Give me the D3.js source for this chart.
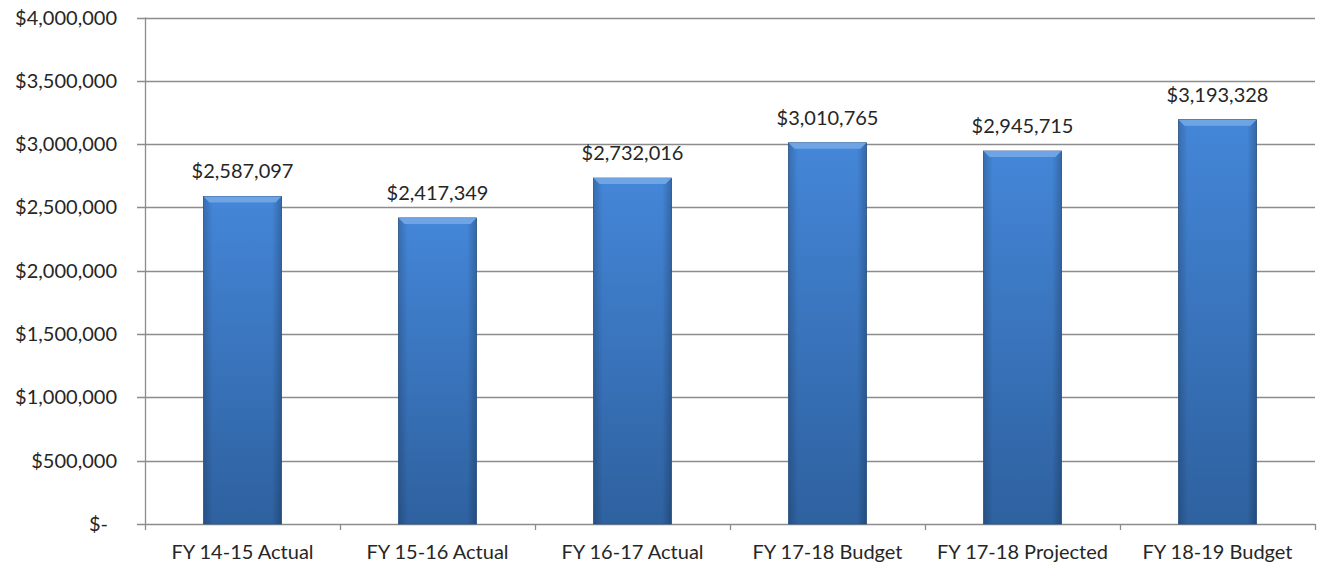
<!DOCTYPE html>
<html>
<head>
<meta charset="utf-8">
<script src="https://cdn.jsdelivr.net/npm/d3@7"></script>
<style>
  html, body { margin: 0; padding: 0; background: #ffffff; }
  svg { display: block; }
  text { font-family: Lato, "Open Sans", sans-serif; fill: #262626; }
</style>
</head>
<body>
<svg id="chart" width="1318" height="564"></svg>
<script>
// Annual totals by fiscal year
const categories = ["FY 14-15 Actual", "FY 15-16 Actual", "FY 16-17 Actual", "FY 17-18 Budget", "FY 17-18 Projected", "FY 18-19 Budget"];
const values = [2587097, 2417349, 2732016, 3010765, 2945715, 3193328];
const yTicks = [0, 500000, 1000000, 1500000, 2000000, 2500000, 3000000, 3500000, 4000000];

const svg = d3.select("#chart");
const plotLeft = 145, plotRight = 1315, plotTop = 17.5, plotBottom = 524;
const fontSize = 20;

const x = d3.scaleBand().domain(categories).range([plotLeft, plotRight]).paddingInner(0.6).paddingOuter(0.3);
const xb = d3.scaleBand().domain(categories).range([plotLeft, plotRight]);
const y = d3.scaleLinear().domain([0, 4000000]).range([plotBottom, plotTop]);

const money = d => d === 0 ? "$-" : "$" + d3.format(",")(d);

// Gradients for the bevelled bars
const defs = svg.append("defs");
const body = defs.append("linearGradient").attr("id", "barBody").attr("x1", 0).attr("y1", 0).attr("x2", 0).attr("y2", 1);
body.append("stop").attr("offset", "0%").attr("stop-color", "#4486d8");
body.append("stop").attr("offset", "100%").attr("stop-color", "#2e619f");
const side = defs.append("linearGradient").attr("id", "barSide").attr("x1", 0).attr("y1", 0).attr("x2", 1).attr("y2", 0);
side.append("stop").attr("offset", "0%").attr("stop-color", "#000").attr("stop-opacity", 0.18);
side.append("stop").attr("offset", "12%").attr("stop-color", "#000").attr("stop-opacity", 0.0);
side.append("stop").attr("offset", "88%").attr("stop-color", "#000").attr("stop-opacity", 0.0);
side.append("stop").attr("offset", "100%").attr("stop-color", "#000").attr("stop-opacity", 0.22);

// Gridlines
svg.append("g").selectAll("line").data(yTicks).join("line")
  .attr("x1", plotLeft - 8).attr("x2", plotRight)
  .attr("y1", d => Math.round(y(d)) + 0.5).attr("y2", d => Math.round(y(d)) + 0.5)
  .attr("stroke", "#8c8c8c").attr("stroke-width", 1.3);

// Y axis line
svg.append("line").attr("x1", plotLeft + 0.5).attr("x2", plotLeft + 0.5).attr("y1", y(4000000)).attr("y2", y(0) + 6)
  .attr("stroke", "#8c8c8c").attr("stroke-width", 1.3);

// Category tick marks below the baseline
svg.append("g").selectAll("line").data(categories).join("line")
  .attr("x1", d => Math.round(xb(d) + xb.bandwidth()) + 0.5).attr("x2", d => Math.round(xb(d) + xb.bandwidth()) + 0.5)
  .attr("y1", y(0)).attr("y2", y(0) + 6)
  .attr("stroke", "#8c8c8c").attr("stroke-width", 1.3);

// Y tick labels
svg.append("g").selectAll("text").data(yTicks).join("text")
  .attr("x", d => d === 0 ? 108 : 117).attr("y", d => y(d) + 7)
  .attr("text-anchor", "end").attr("font-size", fontSize)
  .text(money);

// Bars
const bars = svg.append("g").selectAll("g").data(values).join("g");
const bev = 6;
bars.append("rect")
  .attr("x", (d, i) => x(categories[i])).attr("width", x.bandwidth())
  .attr("y", d => y(d)).attr("height", d => y(0) - y(d))
  .attr("fill", "url(#barBody)").attr("stroke", "#2b5790").attr("stroke-width", 0.8);
bars.append("rect")
  .attr("x", (d, i) => x(categories[i])).attr("width", x.bandwidth())
  .attr("y", d => y(d)).attr("height", d => y(0) - y(d))
  .attr("fill", "url(#barSide)");
// Top bevel highlight
bars.append("path")
  .attr("d", (d, i) => {
    const x0 = x(categories[i]), x1 = x0 + x.bandwidth(), yt = y(d);
    return `M${x0},${yt}L${x1},${yt}L${x1 - bev},${yt + bev}L${x0 + bev},${yt + bev}Z`;
  })
  .attr("fill", "#74a8e6").attr("opacity", 0.9);

// Value labels
bars.append("text")
  .attr("x", (d, i) => x(categories[i]) + x.bandwidth() / 2)
  .attr("y", d => y(d) - 18)
  .attr("text-anchor", "middle").attr("font-size", fontSize)
  .text(money);

// Category labels
svg.append("g").selectAll("text").data(categories).join("text")
  .attr("x", d => xb(d) + xb.bandwidth() / 2).attr("y", 559)
  .attr("text-anchor", "middle").attr("font-size", fontSize)
  .text(d => d);
</script>
</body>
</html>
